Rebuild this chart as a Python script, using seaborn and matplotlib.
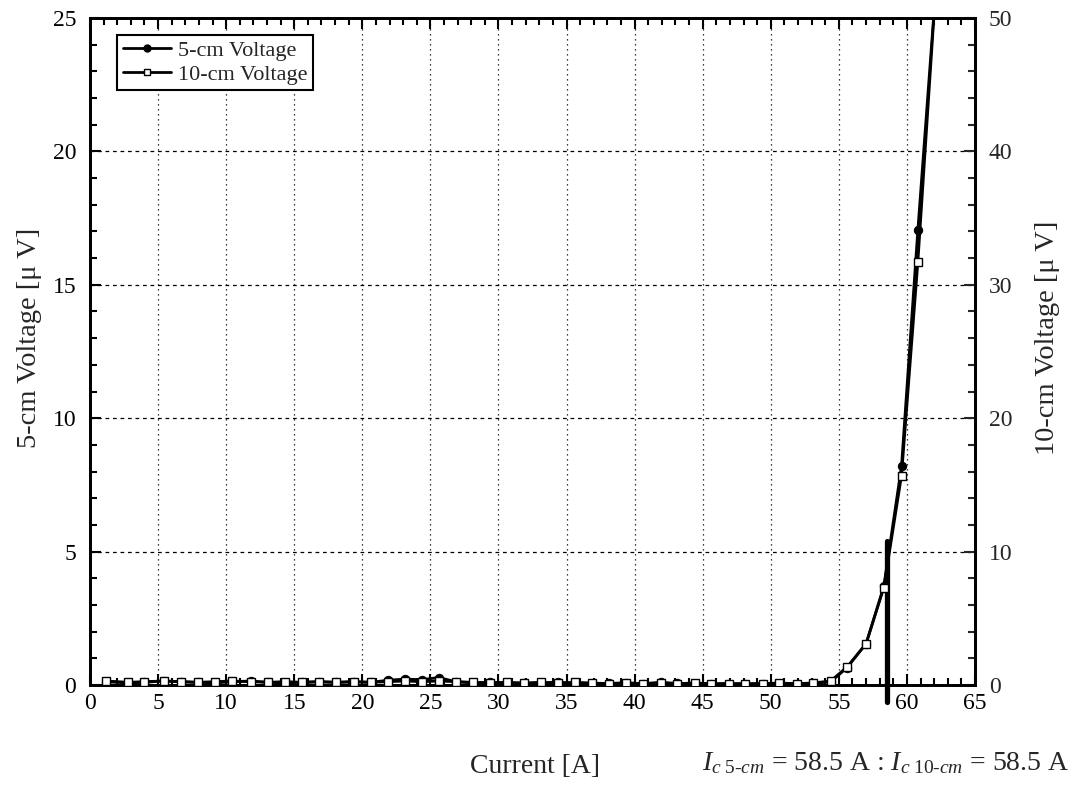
import matplotlib
matplotlib.use("Agg")
import matplotlib.pyplot as plt
from matplotlib.ticker import MultipleLocator
from matplotlib.lines import Line2D
import seaborn as sns

# ─── Data ─────────────────────────────────────────────────────────────────────
current = [1.2, 2.8, 4.0, 5.4, 6.7, 7.9, 9.2, 10.4, 11.8, 13.1, 14.3, 15.6,
           16.8, 18.1, 19.4, 20.6, 21.9, 23.1, 24.4, 25.6, 26.9, 28.1, 29.4,
           30.6, 31.9, 33.1, 34.4, 35.6, 36.9, 38.1, 39.4, 40.6, 41.9, 43.1,
           44.4, 45.6, 46.9, 48.1, 49.4, 50.6, 51.9, 53.1, 54.4, 55.6, 57.0,
           58.3, 59.6, 60.8, 62.1]

v_5cm = [0.12, 0.08, 0.10, 0.15, 0.12, 0.10, 0.08, 0.12, 0.15, 0.10, 0.08,
         0.10, 0.12, 0.10, 0.12, 0.10, 0.18, 0.22, 0.20, 0.28, 0.12, 0.08,
         0.10, 0.08, 0.06, 0.08, 0.10, 0.06, 0.05, 0.06, 0.08, 0.05, 0.10,
         0.06, 0.05, 0.04, 0.05, 0.04, 0.05, 0.04, 0.05, 0.06, 0.12, 0.65,
         1.55, 3.70, 8.20, 17.05, 26.0]

v_10cm = [0.30, 0.20, 0.25, 0.30, 0.25, 0.20, 0.25, 0.30, 0.25, 0.20, 0.25,
          0.20, 0.25, 0.20, 0.25, 0.20, 0.25, 0.30, 0.25, 0.30, 0.25, 0.20,
          0.15, 0.20, 0.15, 0.20, 0.15, 0.20, 0.15, 0.10, 0.15, 0.10, 0.15,
          0.10, 0.15, 0.10, 0.10, 0.10, 0.10, 0.15, 0.10, 0.15, 0.30, 1.35,
          3.10, 7.30, 15.70, 31.70, 52.0]

ic_current = 58.5
ic_span = [5.4, -0.65]   # extent of the Ic marker, in 5-cm axis units

# ─── Style ────────────────────────────────────────────────────────────────────
sns.set_style("ticks")
plt.rcParams['font.family'] = ['Liberation Serif', 'DejaVu Serif']
plt.rcParams['mathtext.fontset'] = 'custom'
plt.rcParams['mathtext.rm'] = 'Liberation Serif'
plt.rcParams['mathtext.it'] = 'Liberation Serif:italic'
plt.rcParams['mathtext.bf'] = 'Liberation Serif:bold'

fig = plt.figure(figsize=(10.73, 7.92), dpi=100)
ax = fig.add_axes([0.0839, 0.1351, 0.8248, 0.8422])
ax2 = ax.twinx()

sns.lineplot(x=current, y=v_5cm, ax=ax, color='black', lw=2,
             marker='o', markersize=6, markerfacecolor='black',
             markeredgecolor='black', zorder=3)
sns.lineplot(x=current, y=v_10cm, ax=ax2, color='black', lw=2,
             marker='s', markersize=6, markerfacecolor='white',
             markeredgecolor='black', markeredgewidth=1, zorder=3)

ax.plot([ic_current, ic_current], ic_span, color='black', lw=3.8,
        solid_capstyle='round', clip_on=False, zorder=4)

ax.set_xlim(0, 65)
ax.set_ylim(0, 25)
ax2.set_ylim(0, 50)

ax.xaxis.set_major_locator(MultipleLocator(5))
ax.xaxis.set_minor_locator(MultipleLocator(1))
ax.yaxis.set_major_locator(MultipleLocator(5))
ax.yaxis.set_minor_locator(MultipleLocator(1))
ax2.yaxis.set_major_locator(MultipleLocator(10))
ax2.yaxis.set_minor_locator(MultipleLocator(2))

ax.tick_params(which='both', direction='in', top=True, right=False,
               width=1.5, labelsize=17, colors='black')
ax.tick_params(which='major', length=8)
ax.tick_params(which='minor', length=5)
ax.tick_params(axis='y', pad=10)
ax.tick_params(axis='x', pad=6)
ax2.tick_params(which='both', direction='in', width=1.5, labelsize=17, pad=10)
ax2.tick_params(which='major', length=8)
ax2.tick_params(which='minor', length=5)

ax.xaxis.grid(True, linestyle=(0, (1, 3)), color='black', lw=0.9)
ax.yaxis.grid(True, linestyle=(0, (3, 3)), color='black', lw=0.9)
ax2.grid(False)

for a in (ax, ax2):
    for s in a.spines.values():
        s.set_linewidth(2)
        s.set_color('black')

ax.set_ylabel('5-cm Voltage [μ V]', fontsize=20.5)
ax.yaxis.set_label_coords(-0.054, 0.52)
ax2.set_ylabel('10-cm Voltage [μ V]', fontsize=20.5)
ax2.yaxis.set_label_coords(1.068, 0.52)
ax.set_xlabel('Current [A]', fontsize=20)
ax.xaxis.set_label_coords(0.503, -0.103)

handles = [
    Line2D([], [], color='black', lw=2, marker='o', markersize=5,
           markerfacecolor='black'),
    Line2D([], [], color='black', lw=2, marker='s', markersize=5,
           markerfacecolor='white', markeredgewidth=1),
]
leg = ax2.legend(handles, ['5-cm Voltage', '10-cm Voltage'], loc='upper left',
                 bbox_to_anchor=(0.0305, 0.975), fontsize=16, frameon=True,
                 fancybox=False, edgecolor='black', framealpha=1,
                 handlelength=2.2, borderpad=0.25, labelspacing=0.15,
                 handletextpad=0.3, borderaxespad=0)
leg.get_frame().set_linewidth(1.5)
leg.set_zorder(10)

fig.text(0.997, 0.028,
         r"$I_{c\ 5\text{-}cm}$ = 58.5 A : $I_{c\ 10\text{-}cm}$ = 58.5 A",
         ha='right', va='baseline', fontsize=20)

fig.savefig('out.png', dpi=100, facecolor='white')
